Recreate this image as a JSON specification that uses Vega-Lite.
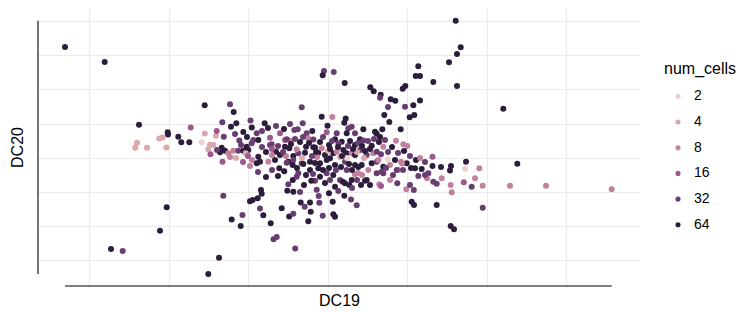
{
  "$schema": "https://vega.github.io/schema/vega-lite/v6.json",
  "width": 602,
  "height": 278,
  "autosize": {"type": "none"},
  "padding": {"left": 38, "top": 8, "right": 100, "bottom": 26},
  "background": "white",
  "config": {
    "view": {"stroke": null},
    "font": "Liberation Sans",
    "axis": {"domain": false, "ticks": false, "labels": false, "grid": true, "gridColor": "#ebebeb", "gridWidth": 1.1, "titleFontSize": 16, "titleFontWeight": "normal", "titleColor": "#000000", "titleFont": "Liberation Sans"}
  },
  "data": {"values": [
    {"DC19": -26.2, "DC20": 11.3, "num_cells": 64},
    {"DC19": -22.23, "DC20": 9.8, "num_cells": 64},
    {"DC19": -12.23, "DC20": 5.47, "num_cells": 64},
    {"DC19": -9.7, "DC20": 5.57, "num_cells": 32},
    {"DC19": -9.33, "DC20": 4.8, "num_cells": 64},
    {"DC19": -18.8, "DC20": 3.53, "num_cells": 64},
    {"DC19": -2.53, "DC20": 5.27, "num_cells": 32},
    {"DC19": -2.43, "DC20": 3.67, "num_cells": 32},
    {"DC19": 12.87, "DC20": 13.93, "num_cells": 64},
    {"DC19": 13.37, "DC20": 11.27, "num_cells": 64},
    {"DC19": 13.0, "DC20": 10.6, "num_cells": 64},
    {"DC19": 12.2, "DC20": 9.77, "num_cells": 64},
    {"DC19": 9.13, "DC20": 9.37, "num_cells": 64},
    {"DC19": 8.87, "DC20": 8.4, "num_cells": 64},
    {"DC19": 9.3, "DC20": 8.4, "num_cells": 64},
    {"DC19": 10.63, "DC20": 7.8, "num_cells": 64},
    {"DC19": 13.0, "DC20": 7.4, "num_cells": 64},
    {"DC19": -0.3, "DC20": 8.9, "num_cells": 32},
    {"DC19": -0.43, "DC20": 8.47, "num_cells": 64},
    {"DC19": 0.67, "DC20": 8.8, "num_cells": 32},
    {"DC19": 1.77, "DC20": 7.7, "num_cells": 64},
    {"DC19": 4.33, "DC20": 7.27, "num_cells": 64},
    {"DC19": 4.67, "DC20": 6.87, "num_cells": 64},
    {"DC19": 5.37, "DC20": 6.53, "num_cells": 64},
    {"DC19": 5.3, "DC20": 6.23, "num_cells": 32},
    {"DC19": 7.57, "DC20": 7.13, "num_cells": 64},
    {"DC19": 7.83, "DC20": 7.4, "num_cells": 64},
    {"DC19": 6.37, "DC20": 6.07, "num_cells": 64},
    {"DC19": 6.83, "DC20": 5.93, "num_cells": 64},
    {"DC19": 9.3, "DC20": 5.95, "num_cells": 64},
    {"DC19": 8.63, "DC20": 5.47, "num_cells": 64},
    {"DC19": 6.1, "DC20": 5.3, "num_cells": 32},
    {"DC19": 7.8, "DC20": 5.33, "num_cells": 32},
    {"DC19": 17.63, "DC20": 5.13, "num_cells": 64},
    {"DC19": 5.73, "DC20": 4.5, "num_cells": 64},
    {"DC19": 6.23, "DC20": 3.8, "num_cells": 64},
    {"DC19": 8.27, "DC20": 4.27, "num_cells": 64},
    {"DC19": 8.73, "DC20": 4.5, "num_cells": 64},
    {"DC19": 7.37, "DC20": 3.07, "num_cells": 64},
    {"DC19": 5.53, "DC20": 3.07, "num_cells": 64},
    {"DC19": 4.97, "DC20": 2.62, "num_cells": 64},
    {"DC19": 5.3, "DC20": 2.3, "num_cells": 64},
    {"DC19": 6.9, "DC20": 1.93, "num_cells": 8},
    {"DC19": 7.63, "DC20": 1.57, "num_cells": 8},
    {"DC19": 8.03, "DC20": 1.4, "num_cells": 8},
    {"DC19": 5.63, "DC20": 1.33, "num_cells": 8},
    {"DC19": 10.55, "DC20": 0.33, "num_cells": 16},
    {"DC19": 13.9, "DC20": -0.17, "num_cells": 64},
    {"DC19": 13.8, "DC20": -0.88, "num_cells": 2},
    {"DC19": 15.23, "DC20": -0.83, "num_cells": 8},
    {"DC19": 19.03, "DC20": -0.37, "num_cells": 64},
    {"DC19": 12.37, "DC20": -2.5, "num_cells": 8},
    {"DC19": 13.68, "DC20": -2.23, "num_cells": 16},
    {"DC19": 14.47, "DC20": -2.67, "num_cells": 32},
    {"DC19": 14.8, "DC20": -1.83, "num_cells": 8},
    {"DC19": 15.57, "DC20": -2.57, "num_cells": 8},
    {"DC19": 18.3, "DC20": -2.57, "num_cells": 8},
    {"DC19": 21.9, "DC20": -2.57, "num_cells": 8},
    {"DC19": 28.47, "DC20": -2.93, "num_cells": 8},
    {"DC19": 12.47, "DC20": -3.23, "num_cells": 8},
    {"DC19": 15.57, "DC20": -4.77, "num_cells": 32},
    {"DC19": 12.4, "DC20": -0.6, "num_cells": 64},
    {"DC19": 12.3, "DC20": -1.05, "num_cells": 64},
    {"DC19": 11.4, "DC20": -0.7, "num_cells": 64},
    {"DC19": 10.55, "DC20": -0.6, "num_cells": 64},
    {"DC19": 10.97, "DC20": -2.38, "num_cells": 32},
    {"DC19": 10.63, "DC20": -2.17, "num_cells": 32},
    {"DC19": 11.47, "DC20": -1.83, "num_cells": 8},
    {"DC19": 10.13, "DC20": -1.33, "num_cells": 32},
    {"DC19": 10.0, "DC20": -1.83, "num_cells": 8},
    {"DC19": 9.47, "DC20": -0.9, "num_cells": 64},
    {"DC19": 9.13, "DC20": -1.6, "num_cells": 32},
    {"DC19": 8.8, "DC20": -0.83, "num_cells": 64},
    {"DC19": 8.4, "DC20": -0.8, "num_cells": 64},
    {"DC19": 7.97, "DC20": -0.33, "num_cells": 64},
    {"DC19": 7.5, "DC20": -0.35, "num_cells": 8},
    {"DC19": 7.93, "DC20": -2.93, "num_cells": 8},
    {"DC19": 8.68, "DC20": -3.0, "num_cells": 32},
    {"DC19": 8.3, "DC20": -2.5, "num_cells": 32},
    {"DC19": 8.47, "DC20": -4.17, "num_cells": 64},
    {"DC19": 8.7, "DC20": -4.5, "num_cells": 64},
    {"DC19": 10.97, "DC20": -4.5, "num_cells": 64},
    {"DC19": 12.37, "DC20": -6.6, "num_cells": 64},
    {"DC19": 12.7, "DC20": -6.93, "num_cells": 64},
    {"DC19": 9.8, "DC20": -1.5, "num_cells": 32},
    {"DC19": -15.93, "DC20": 2.77, "num_cells": 64},
    {"DC19": -15.9, "DC20": 2.55, "num_cells": 64},
    {"DC19": -14.87, "DC20": 2.33, "num_cells": 64},
    {"DC19": -14.57, "DC20": 1.77, "num_cells": 64},
    {"DC19": -13.77, "DC20": 1.77, "num_cells": 64},
    {"DC19": -13.63, "DC20": 3.25, "num_cells": 16},
    {"DC19": -16.77, "DC20": 2.15, "num_cells": 4},
    {"DC19": -16.43, "DC20": 2.25, "num_cells": 4},
    {"DC19": -19.0, "DC20": 1.73, "num_cells": 4},
    {"DC19": -19.18, "DC20": 1.23, "num_cells": 4},
    {"DC19": -18.0, "DC20": 1.23, "num_cells": 4},
    {"DC19": -16.07, "DC20": 1.25, "num_cells": 4},
    {"DC19": -12.22, "DC20": 2.65, "num_cells": 4},
    {"DC19": -12.53, "DC20": 1.77, "num_cells": 2},
    {"DC19": -11.7, "DC20": 1.53, "num_cells": 4},
    {"DC19": -11.87, "DC20": 1.07, "num_cells": 4},
    {"DC19": -11.1, "DC20": 2.42, "num_cells": 4},
    {"DC19": -11.03, "DC20": 2.9, "num_cells": 16},
    {"DC19": -10.47, "DC20": 3.77, "num_cells": 32},
    {"DC19": -10.32, "DC20": 2.33, "num_cells": 32},
    {"DC19": -9.6, "DC20": 3.33, "num_cells": 64},
    {"DC19": -9.07, "DC20": 3.67, "num_cells": 64},
    {"DC19": -8.37, "DC20": 2.8, "num_cells": 64},
    {"DC19": -7.65, "DC20": 3.95, "num_cells": 32},
    {"DC19": -7.52, "DC20": 3.25, "num_cells": 64},
    {"DC19": -11.37, "DC20": 1.5, "num_cells": 4},
    {"DC19": -11.65, "DC20": 0.58, "num_cells": 16},
    {"DC19": -10.53, "DC20": 1.23, "num_cells": 64},
    {"DC19": -10.7, "DC20": 0.77, "num_cells": 64},
    {"DC19": -10.2, "DC20": 0.93, "num_cells": 64},
    {"DC19": -11.0, "DC20": 1.0, "num_cells": 32},
    {"DC19": -10.45, "DC20": -0.17, "num_cells": 16},
    {"DC19": -9.37, "DC20": 0.93, "num_cells": 8},
    {"DC19": -8.87, "DC20": 0.93, "num_cells": 32},
    {"DC19": -8.37, "DC20": 0.93, "num_cells": 64},
    {"DC19": -8.77, "DC20": 1.95, "num_cells": 32},
    {"DC19": -8.6, "DC20": 1.5, "num_cells": 32},
    {"DC19": -8.03, "DC20": 1.33, "num_cells": 64},
    {"DC19": -7.87, "DC20": 1.0, "num_cells": 64},
    {"DC19": -7.53, "DC20": 1.67, "num_cells": 32},
    {"DC19": -7.37, "DC20": 2.0, "num_cells": 32},
    {"DC19": -7.5, "DC20": 0.0, "num_cells": 8},
    {"DC19": -6.87, "DC20": 0.33, "num_cells": 64},
    {"DC19": -7.03, "DC20": -0.33, "num_cells": 64},
    {"DC19": -9.87, "DC20": 0.67, "num_cells": 8},
    {"DC19": -8.13, "DC20": 0.67, "num_cells": 4},
    {"DC19": -6.23, "DC20": 3.67, "num_cells": 64},
    {"DC19": -7.03, "DC20": 2.67, "num_cells": 32},
    {"DC19": -5.7, "DC20": 2.23, "num_cells": 16},
    {"DC19": -4.7, "DC20": 2.67, "num_cells": 16},
    {"DC19": -5.53, "DC20": 1.57, "num_cells": 32},
    {"DC19": -3.27, "DC20": 3.0, "num_cells": 32},
    {"DC19": -2.93, "DC20": 3.07, "num_cells": 32},
    {"DC19": -1.47, "DC20": 2.9, "num_cells": 64},
    {"DC19": -2.03, "DC20": 2.67, "num_cells": 32},
    {"DC19": -4.2, "DC20": 1.33, "num_cells": 64},
    {"DC19": -3.77, "DC20": 1.17, "num_cells": 64},
    {"DC19": -1.37, "DC20": 1.27, "num_cells": 64},
    {"DC19": -2.1, "DC20": 1.33, "num_cells": 64},
    {"DC19": -4.2, "DC20": 2.0, "num_cells": 16},
    {"DC19": -3.7, "DC20": 1.93, "num_cells": 8},
    {"DC19": -5.1, "DC20": 0.83, "num_cells": 64},
    {"DC19": -4.7, "DC20": 0.5, "num_cells": 64},
    {"DC19": -3.37, "DC20": 0.4, "num_cells": 64},
    {"DC19": -2.87, "DC20": 0.67, "num_cells": 32},
    {"DC19": -0.53, "DC20": 4.33, "num_cells": 64},
    {"DC19": 0.53, "DC20": 4.3, "num_cells": 8},
    {"DC19": 1.87, "DC20": 4.15, "num_cells": 64},
    {"DC19": 1.73, "DC20": 3.73, "num_cells": 64},
    {"DC19": 0.05, "DC20": 3.43, "num_cells": 64},
    {"DC19": -0.03, "DC20": 2.77, "num_cells": 16},
    {"DC19": 0.97, "DC20": 2.67, "num_cells": 32},
    {"DC19": 2.13, "DC20": 3.17, "num_cells": 32},
    {"DC19": 2.47, "DC20": 3.33, "num_cells": 32},
    {"DC19": 1.97, "DC20": 2.67, "num_cells": 64},
    {"DC19": 2.8, "DC20": 2.67, "num_cells": 32},
    {"DC19": 3.63, "DC20": 3.07, "num_cells": 64},
    {"DC19": 4.8, "DC20": 2.83, "num_cells": 64},
    {"DC19": 3.3, "DC20": 2.07, "num_cells": 64},
    {"DC19": 3.63, "DC20": 1.95, "num_cells": 32},
    {"DC19": -6.87, "DC20": 2.0, "num_cells": 64},
    {"DC19": -5.7, "DC20": 1.5, "num_cells": 32},
    {"DC19": -4.03, "DC20": 2.07, "num_cells": 32},
    {"DC19": -1.87, "DC20": 2.17, "num_cells": 8},
    {"DC19": -1.37, "DC20": 2.05, "num_cells": 32},
    {"DC19": 0.8, "DC20": 2.07, "num_cells": 64},
    {"DC19": 1.47, "DC20": 1.83, "num_cells": 64},
    {"DC19": 1.15, "DC20": 1.65, "num_cells": 32},
    {"DC19": 2.8, "DC20": 1.5, "num_cells": 64},
    {"DC19": 4.47, "DC20": 1.43, "num_cells": 64},
    {"DC19": -3.03, "DC20": 1.07, "num_cells": 8},
    {"DC19": -2.2, "DC20": 0.73, "num_cells": 64},
    {"DC19": -1.2, "DC20": 1.25, "num_cells": 64},
    {"DC19": -0.87, "DC20": 0.73, "num_cells": 64},
    {"DC19": -0.53, "DC20": 1.17, "num_cells": 8},
    {"DC19": -0.2, "DC20": 0.5, "num_cells": 64},
    {"DC19": -0.03, "DC20": 0.0, "num_cells": 64},
    {"DC19": 0.3, "DC20": 0.17, "num_cells": 64},
    {"DC19": 0.63, "DC20": 0.67, "num_cells": 64},
    {"DC19": 0.97, "DC20": 0.83, "num_cells": 8},
    {"DC19": 1.63, "DC20": 1.0, "num_cells": 64},
    {"DC19": 1.97, "DC20": 0.67, "num_cells": 64},
    {"DC19": 2.47, "DC20": 0.67, "num_cells": 8},
    {"DC19": 2.8, "DC20": 0.5, "num_cells": 64},
    {"DC19": 3.3, "DC20": 1.0, "num_cells": 32},
    {"DC19": 3.97, "DC20": 0.5, "num_cells": 32},
    {"DC19": 4.63, "DC20": 0.67, "num_cells": 8},
    {"DC19": -6.7, "DC20": -0.17, "num_cells": 64},
    {"DC19": -5.87, "DC20": -0.17, "num_cells": 8},
    {"DC19": -5.2, "DC20": 0.0, "num_cells": 64},
    {"DC19": -3.87, "DC20": -0.17, "num_cells": 64},
    {"DC19": -3.37, "DC20": 0.0, "num_cells": 32},
    {"DC19": -2.53, "DC20": -0.33, "num_cells": 32},
    {"DC19": -1.7, "DC20": -0.17, "num_cells": 64},
    {"DC19": -0.7, "DC20": -0.33, "num_cells": 64},
    {"DC19": 0.8, "DC20": -0.5, "num_cells": 64},
    {"DC19": 1.8, "DC20": -0.17, "num_cells": 32},
    {"DC19": 2.8, "DC20": -0.5, "num_cells": 64},
    {"DC19": 3.47, "DC20": -0.5, "num_cells": 64},
    {"DC19": 4.47, "DC20": -0.33, "num_cells": 64},
    {"DC19": 4.97, "DC20": -0.17, "num_cells": 32},
    {"DC19": 4.97, "DC20": 0.83, "num_cells": 32},
    {"DC19": 5.4, "DC20": 0.57, "num_cells": 32},
    {"DC19": 5.13, "DC20": 0.0, "num_cells": 8},
    {"DC19": 6.07, "DC20": 0.07, "num_cells": 2},
    {"DC19": 6.8, "DC20": 0.0, "num_cells": 64},
    {"DC19": 7.4, "DC20": -0.17, "num_cells": 8},
    {"DC19": 5.63, "DC20": -0.67, "num_cells": 64},
    {"DC19": 6.3, "DC20": -0.5, "num_cells": 8},
    {"DC19": -10.37, "DC20": -3.57, "num_cells": 32},
    {"DC19": -16.03, "DC20": -4.73, "num_cells": 64},
    {"DC19": -16.7, "DC20": -7.07, "num_cells": 64},
    {"DC19": -21.6, "DC20": -8.9, "num_cells": 64},
    {"DC19": -20.43, "DC20": -9.1, "num_cells": 32},
    {"DC19": -11.87, "DC20": -11.4, "num_cells": 64},
    {"DC19": -10.8, "DC20": -9.77, "num_cells": 64},
    {"DC19": -9.53, "DC20": -5.95, "num_cells": 64},
    {"DC19": -8.63, "DC20": -6.6, "num_cells": 64},
    {"DC19": -8.45, "DC20": -5.5, "num_cells": 32},
    {"DC19": -7.7, "DC20": -4.13, "num_cells": 64},
    {"DC19": -7.43, "DC20": -4.0, "num_cells": 64},
    {"DC19": -6.93, "DC20": -3.83, "num_cells": 64},
    {"DC19": -6.6, "DC20": -3.0, "num_cells": 64},
    {"DC19": -6.53, "DC20": -3.38, "num_cells": 64},
    {"DC19": -6.7, "DC20": -4.85, "num_cells": 32},
    {"DC19": -6.37, "DC20": -5.52, "num_cells": 64},
    {"DC19": -5.63, "DC20": -6.32, "num_cells": 64},
    {"DC19": -5.35, "DC20": -7.92, "num_cells": 32},
    {"DC19": -5.03, "DC20": -7.7, "num_cells": 32},
    {"DC19": -4.53, "DC20": -4.83, "num_cells": 64},
    {"DC19": -3.78, "DC20": -5.65, "num_cells": 64},
    {"DC19": -3.37, "DC20": -5.37, "num_cells": 32},
    {"DC19": -3.18, "DC20": -8.85, "num_cells": 32},
    {"DC19": -3.97, "DC20": -3.07, "num_cells": 64},
    {"DC19": -3.37, "DC20": -3.17, "num_cells": 64},
    {"DC19": -3.87, "DC20": -2.43, "num_cells": 32},
    {"DC19": -3.42, "DC20": -2.0, "num_cells": 64},
    {"DC19": -2.63, "DC20": -4.25, "num_cells": 64},
    {"DC19": -2.23, "DC20": -4.67, "num_cells": 32},
    {"DC19": -1.7, "DC20": -4.25, "num_cells": 64},
    {"DC19": -1.63, "DC20": -5.17, "num_cells": 64},
    {"DC19": -1.87, "DC20": -6.13, "num_cells": 64},
    {"DC19": -1.03, "DC20": -2.97, "num_cells": 32},
    {"DC19": -0.83, "DC20": -3.6, "num_cells": 32},
    {"DC19": -1.2, "DC20": -2.07, "num_cells": 32},
    {"DC19": -1.57, "DC20": -2.08, "num_cells": 64},
    {"DC19": -4.77, "DC20": -0.83, "num_cells": 64},
    {"DC19": -4.28, "DC20": -1.13, "num_cells": 64},
    {"DC19": -4.03, "DC20": -0.27, "num_cells": 32},
    {"DC19": -3.43, "DC20": -0.5, "num_cells": 64},
    {"DC19": -2.87, "DC20": -1.33, "num_cells": 32},
    {"DC19": -3.03, "DC20": -1.67, "num_cells": 32},
    {"DC19": -2.37, "DC20": -0.4, "num_cells": 64},
    {"DC19": -1.7, "DC20": -1.0, "num_cells": 64},
    {"DC19": -1.2, "DC20": -0.3, "num_cells": 64},
    {"DC19": -0.7, "DC20": -1.67, "num_cells": 64},
    {"DC19": -0.87, "DC20": -0.83, "num_cells": 64},
    {"DC19": -0.03, "DC20": -1.33, "num_cells": 32},
    {"DC19": 0.63, "DC20": -1.5, "num_cells": 64},
    {"DC19": 1.3, "DC20": -2.0, "num_cells": 32},
    {"DC19": 1.8, "DC20": -2.33, "num_cells": 64},
    {"DC19": 2.23, "DC20": -2.5, "num_cells": 64},
    {"DC19": 2.8, "DC20": -1.43, "num_cells": 8},
    {"DC19": 2.47, "DC20": -2.0, "num_cells": 64},
    {"DC19": 1.97, "DC20": -1.0, "num_cells": 32},
    {"DC19": 0.2, "DC20": -3.33, "num_cells": 64},
    {"DC19": 0.8, "DC20": -2.67, "num_cells": 64},
    {"DC19": 1.13, "DC20": -3.1, "num_cells": 32},
    {"DC19": 1.73, "DC20": -3.57, "num_cells": 64},
    {"DC19": 2.4, "DC20": -3.95, "num_cells": 32},
    {"DC19": 2.97, "DC20": -4.53, "num_cells": 32},
    {"DC19": -0.77, "DC20": -4.27, "num_cells": 32},
    {"DC19": -0.43, "DC20": -5.58, "num_cells": 32},
    {"DC19": 0.63, "DC20": -5.43, "num_cells": 64},
    {"DC19": 0.8, "DC20": -5.67, "num_cells": 64},
    {"DC19": 0.57, "DC20": -4.17, "num_cells": 64},
    {"DC19": 1.57, "DC20": -2.17, "num_cells": 64},
    {"DC19": 2.5, "DC20": -2.8, "num_cells": 32},
    {"DC19": 3.97, "DC20": -2.0, "num_cells": 64},
    {"DC19": 4.3, "DC20": -2.5, "num_cells": 64},
    {"DC19": 5.23, "DC20": -2.43, "num_cells": 8},
    {"DC19": 5.63, "DC20": -1.33, "num_cells": 32},
    {"DC19": 6.3, "DC20": -2.0, "num_cells": 8},
    {"DC19": 7.03, "DC20": -2.33, "num_cells": 32},
    {"DC19": 6.6, "DC20": -1.5, "num_cells": 32},
    {"DC19": 7.13, "DC20": -1.0, "num_cells": 8},
    {"DC19": 5.4, "DC20": -2.6, "num_cells": 16},
    {"DC19": 3.8, "DC20": -2.07, "num_cells": 64},
    {"DC19": 3.5, "DC20": -1.5, "num_cells": 8},
    {"DC19": 4.13, "DC20": -1.0, "num_cells": 8},
    {"DC19": 4.97, "DC20": -1.33, "num_cells": 32},
    {"DC19": 5.47, "DC20": -1.17, "num_cells": 32},
    {"DC19": 5.9, "DC20": -0.8, "num_cells": 32},
    {"DC19": 6.97, "DC20": -1.0, "num_cells": 32},
    {"DC19": 7.6, "DC20": -1.0, "num_cells": 32},
    {"DC19": 3.13, "DC20": -0.7, "num_cells": 64},
    {"DC19": 3.1, "DC20": -1.3, "num_cells": 8},
    {"DC19": 1.3, "DC20": 0.3, "num_cells": 4},
    {"DC19": 2.0, "DC20": 0.2, "num_cells": 2},
    {"DC19": 3.0, "DC20": 0.8, "num_cells": 4},
    {"DC19": 3.7, "DC20": 0.2, "num_cells": 4},
    {"DC19": -1.0, "DC20": 0.3, "num_cells": 8},
    {"DC19": 0.1, "DC20": 0.9, "num_cells": 4},
    {"DC19": -4.1, "DC20": 0.4, "num_cells": 8},
    {"DC19": -2.5, "DC20": 0.2, "num_cells": 4},
    {"DC19": -5.5, "DC20": 0.5, "num_cells": 8},
    {"DC19": -7.9, "DC20": 0.4, "num_cells": 16},
    {"DC19": -6.5, "DC20": 1.3, "num_cells": 32},
    {"DC19": -6.1, "DC20": 0.8, "num_cells": 64},
    {"DC19": -5.5, "DC20": 1.1, "num_cells": 16},
    {"DC19": -4.9, "DC20": 1.4, "num_cells": 32},
    {"DC19": -4.4, "DC20": 0.8, "num_cells": 32},
    {"DC19": -3.6, "DC20": 1.6, "num_cells": 64},
    {"DC19": -3.2, "DC20": 2.1, "num_cells": 32},
    {"DC19": -2.7, "DC20": 1.8, "num_cells": 64},
    {"DC19": -2.4, "DC20": 2.3, "num_cells": 32},
    {"DC19": -1.8, "DC20": 1.7, "num_cells": 64},
    {"DC19": -1.5, "DC20": 0.4, "num_cells": 32},
    {"DC19": -1.1, "DC20": 0.8, "num_cells": 64},
    {"DC19": -0.7, "DC20": 1.8, "num_cells": 64},
    {"DC19": -0.4, "DC20": 2.3, "num_cells": 32},
    {"DC19": 0.2, "DC20": 1.5, "num_cells": 64},
    {"DC19": 0.5, "DC20": 1.9, "num_cells": 32},
    {"DC19": 0.3, "DC20": 1.1, "num_cells": 64},
    {"DC19": 1.1, "DC20": 1.3, "num_cells": 64},
    {"DC19": 1.5, "DC20": 0.4, "num_cells": 64},
    {"DC19": 2.1, "DC20": 1.4, "num_cells": 32},
    {"DC19": 2.3, "DC20": 1.9, "num_cells": 64},
    {"DC19": 2.6, "DC20": 1.1, "num_cells": 64},
    {"DC19": 3.1, "DC20": 1.7, "num_cells": 32},
    {"DC19": 3.5, "DC20": 1.4, "num_cells": 64},
    {"DC19": 3.8, "DC20": 0.9, "num_cells": 64},
    {"DC19": 4.1, "DC20": 1.9, "num_cells": 32},
    {"DC19": 4.3, "DC20": 1.1, "num_cells": 64},
    {"DC19": 4.7, "DC20": 2.1, "num_cells": 32},
    {"DC19": 5.2, "DC20": 1.8, "num_cells": 64},
    {"DC19": 5.8, "DC20": 2.0, "num_cells": 32},
    {"DC19": 6.1, "DC20": 0.8, "num_cells": 32},
    {"DC19": 6.5, "DC20": 1.3, "num_cells": 64},
    {"DC19": 7.1, "DC20": 0.7, "num_cells": 32},
    {"DC19": 7.7, "DC20": 0.9, "num_cells": 64},
    {"DC19": 8.3, "DC20": 0.4, "num_cells": 32},
    {"DC19": 8.9, "DC20": 0.0, "num_cells": 64},
    {"DC19": 9.3, "DC20": 0.2, "num_cells": 8},
    {"DC19": 9.8, "DC20": -0.2, "num_cells": 32},
    {"DC19": -3.0, "DC20": -0.8, "num_cells": 64},
    {"DC19": -2.1, "DC20": -1.5, "num_cells": 64},
    {"DC19": -1.4, "DC20": -1.4, "num_cells": 32},
    {"DC19": -0.4, "DC20": -1.0, "num_cells": 64},
    {"DC19": 0.2, "DC20": -0.8, "num_cells": 64},
    {"DC19": 0.9, "DC20": -1.0, "num_cells": 32},
    {"DC19": 1.4, "DC20": -0.7, "num_cells": 64},
    {"DC19": 2.2, "DC20": -0.4, "num_cells": 64},
    {"DC19": 2.5, "DC20": -1.0, "num_cells": 64},
    {"DC19": 3.0, "DC20": -2.0, "num_cells": 32},
    {"DC19": 3.4, "DC20": -2.5, "num_cells": 64},
    {"DC19": -0.2, "DC20": -2.3, "num_cells": 64},
    {"DC19": 0.3, "DC20": -2.0, "num_cells": 32},
    {"DC19": -2.3, "DC20": -2.5, "num_cells": 64},
    {"DC19": -2.7, "DC20": -3.2, "num_cells": 32},
    {"DC19": -4.9, "DC20": -1.6, "num_cells": 64},
    {"DC19": -5.5, "DC20": -1.0, "num_cells": 32},
    {"DC19": -6.1, "DC20": -1.7, "num_cells": 64},
    {"DC19": -6.9, "DC20": -1.2, "num_cells": 32},
    {"DC19": -7.7, "DC20": -0.6, "num_cells": 8},
    {"DC19": -8.4, "DC20": -0.2, "num_cells": 16},
    {"DC19": -9.1, "DC20": 0.2, "num_cells": 4},
    {"DC19": -9.7, "DC20": 0.3, "num_cells": 8},
    {"DC19": -6.5, "DC20": 2.9, "num_cells": 32},
    {"DC19": -5.9, "DC20": 3.2, "num_cells": 64},
    {"DC19": -5.1, "DC20": 3.4, "num_cells": 32},
    {"DC19": -4.3, "DC20": 3.1, "num_cells": 64},
    {"DC19": -3.7, "DC20": 3.6, "num_cells": 32},
    {"DC19": -8.0, "DC20": 2.3, "num_cells": 64},
    {"DC19": -9.2, "DC20": 2.6, "num_cells": 32}
  ]},
  "layer": [
    {
      "mark": {"type": "circle", "size": 36, "opacity": 1, "strokeWidth": 0},
      "encoding": {
        "x": {"field": "DC19", "type": "quantitative", "scale": {"domain": [-28.9, 31.3], "nice": false, "zero": false}, "axis": {"title": "DC19", "values": [-23.77, -15.8, -7.87, 0.07, 8.03, 15.97, 23.93], "titlePadding": 6}},
        "y": {"field": "DC20", "type": "quantitative", "scale": {"domain": [-12.6, 15.2], "nice": false, "zero": false}, "axis": {"title": "DC20", "values": [-10.0, -6.63, -3.23, 0.2, 3.63, 7.07, 10.5, 13.93], "titlePadding": 13}},
        "color": {
          "field": "num_cells", "type": "quantitative",
          "scale": {"type": "log", "domain": [2, 4, 8, 16, 32, 64], "range": ["#edd3ce", "#dba8ac", "#c2809d", "#9b5a8c", "#683e72", "#2d1d3c"], "clamp": true},
          "legend": {"type": "symbol", "values": [2, 4, 8, 16, 32, 64], "title": "num_cells", "orient": "none", "legendX": 626, "legendY": 53, "symbolType": "circle", "symbolSize": 26, "symbolStrokeWidth": 0, "symbolOffset": 7, "labelOffset": 9, "rowPadding": 11.7, "titlePadding": 12.3, "titleFontSize": 16, "titleFontWeight": "normal", "titleColor": "#000000", "labelFontSize": 14, "labelColor": "#000000", "padding": 0, "titleFont": "Liberation Sans", "labelFont": "Liberation Sans"}
        }
      }
    },
    {
      "mark": {"type": "rule", "color": "#000000", "strokeWidth": 1.1},
      "encoding": {
        "x": {"datum": -28.9, "type": "quantitative", "scale": {"domain": [-28.9, 31.3], "nice": false, "zero": false}, "axis": {"title": "DC19", "values": [-23.77, -15.8, -7.87, 0.07, 8.03, 15.97, 23.93], "titlePadding": 6}},
        "y": {"aggregate": "min", "field": "DC20", "type": "quantitative", "axis": {"title": "DC20", "values": [-10.0, -6.63, -3.23, 0.2, 3.63, 7.07, 10.5, 13.93], "titlePadding": 13}},
        "y2": {"aggregate": "max", "field": "DC20"}
      }
    },
    {
      "mark": {"type": "rule", "color": "#000000", "strokeWidth": 1.1},
      "encoding": {
        "y": {"datum": -12.6, "type": "quantitative", "axis": {"title": "DC20", "values": [-10.0, -6.63, -3.23, 0.2, 3.63, 7.07, 10.5, 13.93], "titlePadding": 13}},
        "x": {"aggregate": "min", "field": "DC19", "type": "quantitative", "axis": {"title": "DC19", "values": [-23.77, -15.8, -7.87, 0.07, 8.03, 15.97, 23.93], "titlePadding": 6}},
        "x2": {"aggregate": "max", "field": "DC19"}
      }
    }
  ]
}
